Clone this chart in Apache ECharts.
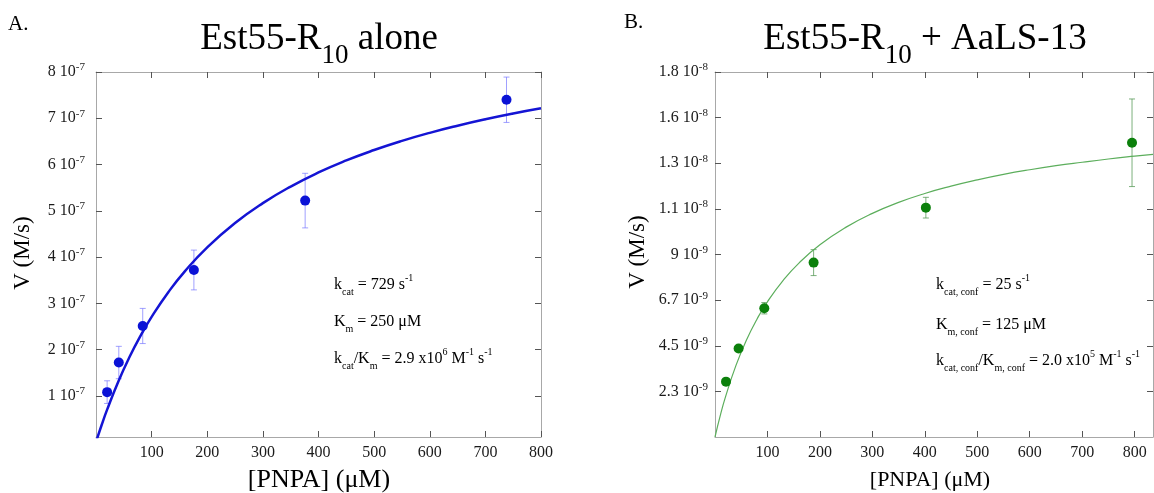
<!DOCTYPE html>
<html><head><meta charset="utf-8">
<script src="https://cdn.jsdelivr.net/npm/echarts@6/dist/echarts.min.js"></script>
<style>html,body{margin:0;padding:0;background:#fff}#c{width:1154px;height:493px}</style>
</head><body><div id="c"></div><script>
// ---- Panel A data (Est55-R10 alone) ----
const leftS   = [20, 41, 84, 176, 376, 738];
const leftV   = [1.08e-7, 1.72e-7, 2.51e-7, 3.72e-7, 5.22e-7, 7.40e-7];
const leftErr = [0.245e-7, 0.35e-7, 0.38e-7, 0.43e-7, 0.59e-7, 0.49e-7];
const leftFitS = [0, 10, 20, 40, 60, 80, 100, 130, 160, 200, 250, 300, 350, 400, 450, 500, 550, 600, 650, 700, 750, 800];
const leftFitV = [0, 0.364e-7, 0.701e-7, 1.306e-7, 1.833e-7, 2.296e-7, 2.706e-7, 3.240e-7, 3.696e-7, 4.209e-7, 4.735e-7, 5.165e-7, 5.524e-7, 5.828e-7, 6.088e-7, 6.313e-7, 6.511e-7, 6.685e-7, 6.839e-7, 6.978e-7, 7.103e-7, 7.215e-7];
const leftYTickVals = [1e-7, 2e-7, 3e-7, 4e-7, 5e-7, 6e-7, 7e-7, 8e-7];
const leftYTickMant = ['1', '2', '3', '4', '5', '6', '7', '8'];
const leftYTickExp  = ['-7', '-7', '-7', '-7', '-7', '-7', '-7', '-7'];
const xTickVals = [100, 200, 300, 400, 500, 600, 700, 800];

// ---- Panel B data (Est55-R10 + AaLS-13) ----
const rightS   = [21, 45, 94, 188, 402, 795];
const rightV   = [2.73e-9, 4.36e-9, 6.35e-9, 8.60e-9, 11.31e-9, 14.51e-9];
const rightErr = [0, 0, 0.28e-9, 0.64e-9, 0.51e-9, 2.16e-9];
const rightFitS = [0, 10, 20, 40, 60, 80, 100, 130, 160, 200, 250, 300, 350, 400, 450, 500, 550, 600, 650, 700, 750, 800, 835];
const rightFitV = [0, 1.053e-9, 1.979e-9, 3.532e-9, 4.782e-9, 5.810e-9, 6.671e-9, 7.727e-9, 8.576e-9, 9.479e-9, 10.35e-9, 11.03e-9, 11.57e-9, 12.01e-9, 12.37e-9, 12.68e-9, 12.95e-9, 13.18e-9, 13.38e-9, 13.55e-9, 13.71e-9, 13.85e-9, 13.94e-9];
const rightYTickVals = [2.25e-9, 4.5e-9, 6.75e-9, 9e-9, 1.125e-8, 1.35e-8, 1.575e-8, 1.8e-8];
const rightYTickMant = ['2.3', '4.5', '6.7', '9', '1.1', '1.3', '1.6', '1.8'];
const rightYTickExp  = ['-9', '-9', '-9', '-9', '-8', '-8', '-8', '-8'];

const FONT = "'Liberation Serif','Times New Roman',serif";
const AXIS_COLOR = '#a8a8a8';
const TICK_COLOR = '#555';
const TEXT_COLOR = '#1a1a1a';

function sciFormatter(vals, mant, exps) {
  return function (v) {
    let best = -1, bd = Infinity;
    vals.forEach((t, i) => { const d = Math.abs(t - v); if (d < bd) { bd = d; best = i; } });
    if (best < 0 || bd > Math.abs(v) * 1e-6 + 1e-20) return '';
    return '{n|' + mant[best] + ' 10}{p|' + exps[best] + '}';
  };
}
const supRich = {
  n: { fontSize: 16, lineHeight: 20, fontFamily: FONT, color: TEXT_COLOR },
  p: { fontSize: 11, lineHeight: 11, verticalAlign: 'top', fontFamily: FONT, color: TEXT_COLOR }
};

function boxAxis(gridIndex, pos, extra) {
  return Object.assign({
    gridIndex, position: pos, type: 'value',
    axisLine: { show: true, onZero: false, lineStyle: { color: AXIS_COLOR, width: 1 } },
    axisTick: { show: true, inside: true, length: 6, lineStyle: { color: TICK_COLOR, width: 1 } },
    axisLabel: { show: false },
    splitLine: { show: false }
  }, extra);
}

function xAxes(gridIndex, max) {
  const bottom = boxAxis(gridIndex, 'bottom', { min: 0, max: max });
  bottom.axisTick.customValues = xTickVals;
  bottom.axisLabel = { show: true, customValues: xTickVals, margin: 8, fontSize: 16, fontFamily: FONT, color: TEXT_COLOR };
  const top = boxAxis(gridIndex, 'top', { min: 0, max: max });
  top.axisTick.customValues = xTickVals;
  return [bottom, top];
}
function yAxes(gridIndex, min, max, vals, mant, exps, margin) {
  const left = boxAxis(gridIndex, 'left', { min: min, max: max });
  left.axisTick.customValues = vals;
  left.axisLabel = { show: true, customValues: vals, margin: margin, formatter: sciFormatter(vals, mant, exps), rich: supRich };
  const right = boxAxis(gridIndex, 'right', { min: min, max: max });
  right.axisTick.customValues = vals;
  return [left, right];
}

function errRender(color) {
  return function (params, api) {
    const x = api.value(0), lo = api.value(1), hi = api.value(2);
    if (hi - lo <= 0) return null;
    const a = api.coord([x, lo]), b = api.coord([x, hi]);
    const w = 3;
    const st = { stroke: color, lineWidth: 1 };
    return { type: 'group', children: [
      { type: 'line', shape: { x1: a[0], y1: a[1], x2: b[0], y2: b[1] }, style: st },
      { type: 'line', shape: { x1: b[0] - w, y1: b[1], x2: b[0] + w, y2: b[1] }, style: st },
      { type: 'line', shape: { x1: a[0] - w, y1: a[1], x2: a[0] + w, y2: a[1] }, style: st }
    ]};
  };
}

const mainRich = (size) => ({
  m: { fontSize: size, lineHeight: 60, fontFamily: FONT, color: '#000' },
  s: { fontSize: Math.round(size * 0.72), lineHeight: 25, verticalAlign: 'bottom', fontFamily: FONT, color: '#000' }
});
const annRich = {
  t: { fontSize: 16, lineHeight: 24, fontFamily: FONT, color: '#000' },
  sub: { fontSize: 10, lineHeight: 10, verticalAlign: 'bottom', fontFamily: FONT, color: '#000' },
  sup: { fontSize: 10, lineHeight: 10, verticalAlign: 'top', fontFamily: FONT, color: '#000' }
};
function txt(x, y, text, rich, align) {
  return { type: 'text', x: x, y: y, style: { text: text, rich: rich, align: align || 'left', verticalAlign: 'top' } };
}

const chart = echarts.init(document.getElementById('c'), null, { renderer: 'canvas' });
chart.setOption({
  animation: false,
  backgroundColor: '#fff',
  grid: [
    { left: 96, top: 72, width: 445, height: 365 },
    { left: 715, top: 72, width: 438, height: 365 }
  ],
  xAxis: [].concat(xAxes(0, 800), xAxes(1, 835)),
  yAxis: [].concat(
    yAxes(0, 1.1e-8, 8e-7, leftYTickVals, leftYTickMant, leftYTickExp, 11),
    yAxes(1, 0, 1.8e-8, rightYTickVals, rightYTickMant, rightYTickExp, 7)
  ),
  series: [
    { type: 'line', xAxisIndex: 0, yAxisIndex: 0, data: leftFitS.map((s, i) => [s, leftFitV[i]]), smooth: true, showSymbol: false, clip: true,
      lineStyle: { color: '#1414d4', width: 2.5 }, z: 3 },
    { type: 'custom', xAxisIndex: 0, yAxisIndex: 0, renderItem: errRender('rgba(120,120,255,0.7)'),
      data: leftS.map((s, i) => [s, leftV[i] - leftErr[i], leftV[i] + leftErr[i]]), encode: { x: 0, y: [1, 2] }, z: 2 },
    { type: 'scatter', xAxisIndex: 0, yAxisIndex: 0, data: leftS.map((s, i) => [s, leftV[i]]), symbolSize: 10,
      itemStyle: { color: '#0a12d6', opacity: 1 }, z: 4 },

    { type: 'line', xAxisIndex: 2, yAxisIndex: 2, data: rightFitS.map((s, i) => [s, rightFitV[i]]), smooth: true, showSymbol: false, clip: true,
      lineStyle: { color: '#5cae5c', width: 1.2 }, z: 3 },
    { type: 'custom', xAxisIndex: 2, yAxisIndex: 2, renderItem: errRender('rgba(80,150,80,0.75)'),
      data: rightS.map((s, i) => [s, rightV[i] - rightErr[i], rightV[i] + rightErr[i]]), encode: { x: 0, y: [1, 2] }, z: 2 },
    { type: 'scatter', xAxisIndex: 2, yAxisIndex: 2, data: rightS.map((s, i) => [s, rightV[i]]), symbolSize: 10,
      itemStyle: { color: '#0b800b', opacity: 1 }, z: 4 }
  ],
  graphic: [
    txt(8, 14, '{a|A.}', { a: { fontSize: 21, fontFamily: FONT, color: '#000' } }),
    txt(624, 12, '{a|B.}', { a: { fontSize: 21, fontFamily: FONT, color: '#000' } }),
    txt(319, 9, '{m|Est55-R}{s|10}{m| alone}', mainRich(37), 'center'),
    txt(925, 9, '{m|Est55-R}{s|10}{m| + AaLS-13}', mainRich(37), 'center'),
    { type: 'text', x: 23, y: 253, rotation: Math.PI / 2,
      style: { text: 'V (M/s)', font: '23px ' + FONT, fill: '#000', align: 'center', verticalAlign: 'middle' } },
    { type: 'text', x: 638, y: 252, rotation: Math.PI / 2,
      style: { text: 'V (M/s)', font: '23px ' + FONT, fill: '#000', align: 'center', verticalAlign: 'middle' } },
    { type: 'text', x: 319, y: 480,
      style: { text: '[PNPA] (\u03bcM)', font: '26px ' + FONT, fill: '#000', align: 'center', verticalAlign: 'middle' } },
    { type: 'text', x: 930, y: 480,
      style: { text: '[PNPA] (\u03bcM)', font: '22px ' + FONT, fill: '#000', align: 'center', verticalAlign: 'middle' } },

    txt(334, 273, '{t|k}{sub|cat}{t| = 729 s}{sup|-1}', annRich),
    txt(334, 310, '{t|K}{sub|m}{t| = 250 \u03bcM}', annRich),
    txt(334, 347, '{t|k}{sub|cat}{t|/K}{sub|m}{t| = 2.9 x10}{sup|6}{t| M}{sup|-1}{t| s}{sup|-1}', annRich),

    txt(936, 273, '{t|k}{sub|cat, conf}{t| = 25 s}{sup|-1}', annRich),
    txt(936, 313, '{t|K}{sub|m, conf}{t| = 125 \u03bcM}', annRich),
    txt(936, 349, '{t|k}{sub|cat, conf}{t|/K}{sub|m, conf}{t| = 2.0 x10}{sup|5}{t| M}{sup|-1}{t| s}{sup|-1}', annRich)
  ]
});
</script></body></html>
